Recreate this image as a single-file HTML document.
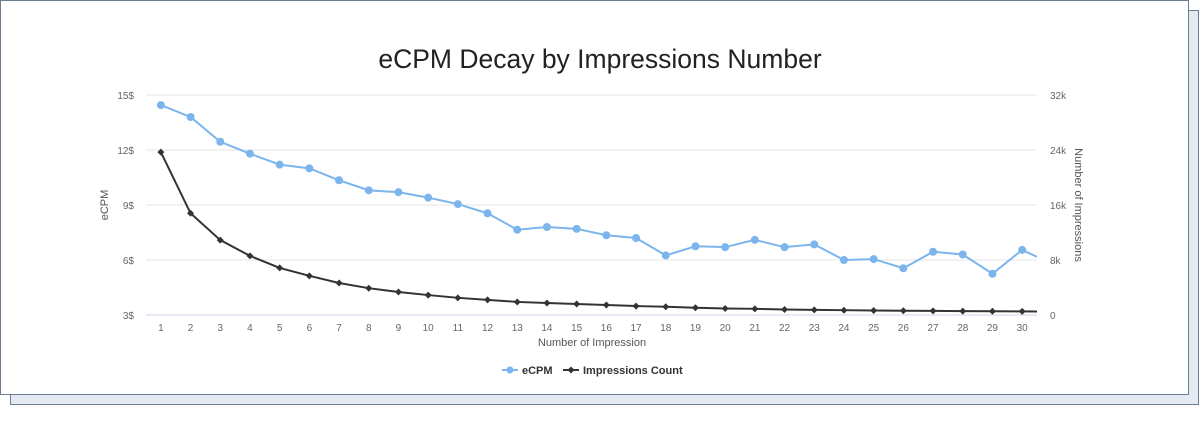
<!DOCTYPE html>
<html><head><meta charset="utf-8"><style>
html,body{margin:0;padding:0;background:#fff;width:1200px;height:422px;overflow:hidden}
svg{display:block;font-family:"Liberation Sans",sans-serif}
</style></head><body>
<svg width="1200" height="422">
<rect x="10.5" y="10.5" width="1188" height="394" fill="#e5eaf2" stroke="#6b7b90"/>
<rect x="0.5" y="0.5" width="1188" height="394" fill="#fff" stroke="#6b7b90"/>
<text x="600" y="68" text-anchor="middle" font-size="26.5" fill="#222">eCPM Decay by Impressions Number</text>
<g id="grid"></g>
<g id="axes"></g>
<defs><clipPath id="pc"><rect x="146" y="80" width="891" height="245"/></clipPath></defs>
<g id="series" clip-path="url(#pc)"></g>
<g id="markers"></g>
<text x="592" y="346" text-anchor="middle" font-size="11" fill="#555">Number of Impression</text>
<text transform="translate(108,205) rotate(-90)" text-anchor="middle" font-size="11" fill="#555">eCPM</text>
<text transform="translate(1075,205) rotate(90)" text-anchor="middle" font-size="11" fill="#555">Number of Impressions</text>
<g>
<line x1="502" y1="370" x2="518" y2="370" stroke="#7cb5ec" stroke-width="2"/><circle cx="510" cy="370" r="3.5" fill="#7cb5ec"/>
<text x="522" y="374" font-size="11" font-weight="bold" fill="#333">eCPM</text></g>
<g>
<line x1="563" y1="370" x2="579" y2="370" stroke="#333" stroke-width="2"/><path d="M571 366.5 L574.5 370 L571 373.5 L567.5 370Z" fill="#333"/>
<text x="583" y="374" font-size="11" font-weight="bold" fill="#333">Impressions Count</text></g>
</svg>
<script>
const categories=[1,2,3,4,5,6,7,8,9,10,11,12,13,14,15,16,17,18,19,20,21,22,23,24,25,26,27,28,29,30];
const ecpm=[14.45,13.8,12.45,11.8,11.2,11.0,10.35,9.8,9.7,9.4,9.05,8.55,7.65,7.8,7.7,7.35,7.2,6.25,6.75,6.7,7.1,6.7,6.85,6.0,6.05,5.55,6.45,6.3,5.25,6.55];
const ecpmNext=[5.8];
const impressions=[23700,14800,10900,8600,6850,5700,4650,3900,3350,2900,2500,2200,1900,1750,1600,1450,1300,1200,1050,950,900,800,750,700,650,620,600,560,540,520];
const impressionsNext=[500];
const leftTicks=[3,6,9,12,15];
const rightTicks=[0,8000,16000,24000,32000];
const rightTickLabels=["0","8k","16k","24k","32k"];
const NS="http://www.w3.org/2000/svg";
const X0=146,X1=1037,YT=95,YB=315;
const step=(X1-X0)/categories.length;
const xs=i=>X0+step*(i+0.5);
const yL=v=>YB-(v-3)/(15-3)*(YB-YT);
const yR=v=>YB-v/32000*(YB-YT);
function mk(tag,attrs,parent){const e=document.createElementNS(NS,tag);for(const k in attrs)e.setAttribute(k,attrs[k]);parent.appendChild(e);return e;}
const grid=document.getElementById('grid'),axes=document.getElementById('axes'),series=document.getElementById('series'),markers=document.getElementById('markers');
leftTicks.forEach((t,i)=>{
 const l=mk('line',{x1:X0,x2:X1,y1:yL(t),y2:yL(t),stroke:i==0?'#ccd6eb':'#e6e6e6','stroke-width':1},grid);
 
 
 const tx=mk('text',{x:134,y:yL(t)+4,'text-anchor':'end','font-size':10,fill:'#666'},axes);
 tx.textContent=t+'$';
 
 
});
rightTicks.forEach((t,i)=>{
 const tx=mk('text',{x:1050,y:yR(t)+4,'font-size':10,fill:'#666'},axes);
 tx.textContent=rightTickLabels[i];
 
 
});
categories.forEach((c,i)=>{
 const tx=mk('text',{x:xs(i),y:331,'text-anchor':'middle','font-size':10,fill:'#666'},axes);
 tx.textContent=c;
 
 
});
const pe=mk('polyline',{points:ecpm.concat(ecpmNext).map((v,i)=>xs(i)+','+yL(v)).join(' '),fill:'none',stroke:'#7cb5ec','stroke-width':2},series);


const pi=mk('polyline',{points:impressions.concat(impressionsNext).map((v,i)=>xs(i)+','+yR(v)).join(' '),fill:'none',stroke:'#333','stroke-width':2},series);


ecpm.forEach((v,i)=>{
 const c=mk('circle',{cx:xs(i),cy:yL(v),r:4,fill:'#7cb5ec'},markers);
 
 
});
impressions.forEach((v,i)=>{
 const x=xs(i),y=yR(v);
 const p=mk('path',{d:`M${x} ${y-3.5} L${x+3.5} ${y} L${x} ${y+3.5} L${x-3.5} ${y}Z`,fill:'#333'},markers);
 
 
});
</script>
</body></html>
